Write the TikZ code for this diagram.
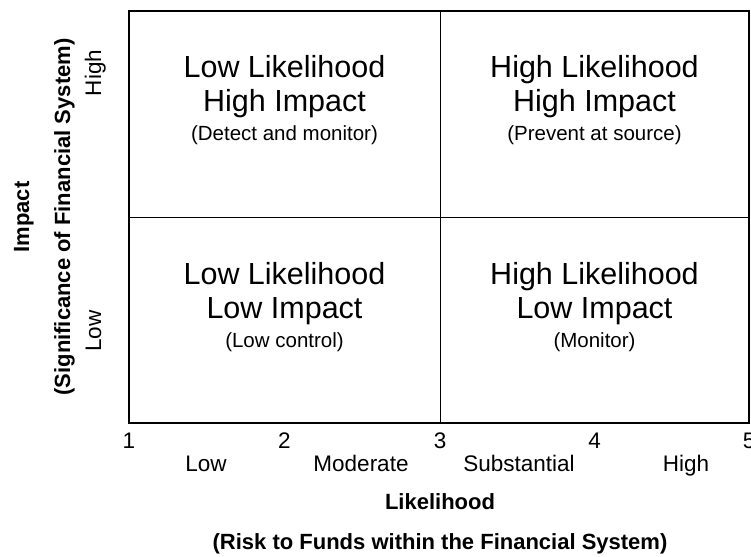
\documentclass[tikz,border=0pt]{standalone}
\usepackage{fontspec}
\setmainfont{Liberation Sans}
\usetikzlibrary{positioning}
\tikzset{
  head/.style={anchor=base, font=\fontsize{30.5}{34}\selectfont},
  note/.style={anchor=base, font=\fontsize{20.5}{24}\selectfont},
  scalelabel/.style={anchor=base, font=\fontsize{22.5}{26}\selectfont},
  axistitle/.style={anchor=base, font=\fontsize{22}{26}\selectfont\bfseries},
}
\begin{document}
\begin{tikzpicture}[x=1pt,y=-1pt]
\useasboundingbox (0,0) rectangle (751,556);

% quadrant frame
\draw[line width=1pt] (440,11) -- (440,423);
\draw[line width=1pt] (129,217) -- (749,217);
\draw[line width=2.5pt] (129,11) rectangle (749,423);

% quadrant texts
\foreach \cx/\cy/\lik/\imp/\act/\nm in {284.5/78/Low/High/Detect and monitor/lh,
    594.5/78/High/High/Prevent at source/hh,
    284.5/284/Low/Low/Low control/ll,
    594.5/284/High/Low/Monitor/hl} {
  \node[head] (\nm-a) at (\cx,\cy) {\lik{} Likelihood};
  \node[head] (\nm-b) at (\cx,\cy+34) {\imp{} Impact};
  \node[note] (\nm-c) at (\cx,\cy+63) {(\act)};
}

% likelihood scale
\foreach \n/\tx in {1/129,2/284.5,3/440,4/594.5,5/749}
  \node[scalelabel] (tick\n) at (\tx,448) {\n};
\foreach \lvl/\tx in {Low/206,Moderate/361,Substantial/519,High/686}
  \node[scalelabel] (lvl-\lvl) at (\tx,471) {\lvl};
\node[axistitle] (xtitle) at (440,509) {Likelihood};
\node[axistitle] (xsub) at (440,549) {(Risk to Funds within the Financial System)};

% impact scale
\node[axistitle, rotate=90] (ytitle) at (29,217) {Impact};
\node[axistitle, rotate=90] (ysub) at (70,217) {(Significance of Financial System)};
\node[scalelabel, rotate=90] (imp-high) at (101,73) {High};
\node[scalelabel, rotate=90] (imp-low) at (101,331) {Low};
\end{tikzpicture}
\end{document}
